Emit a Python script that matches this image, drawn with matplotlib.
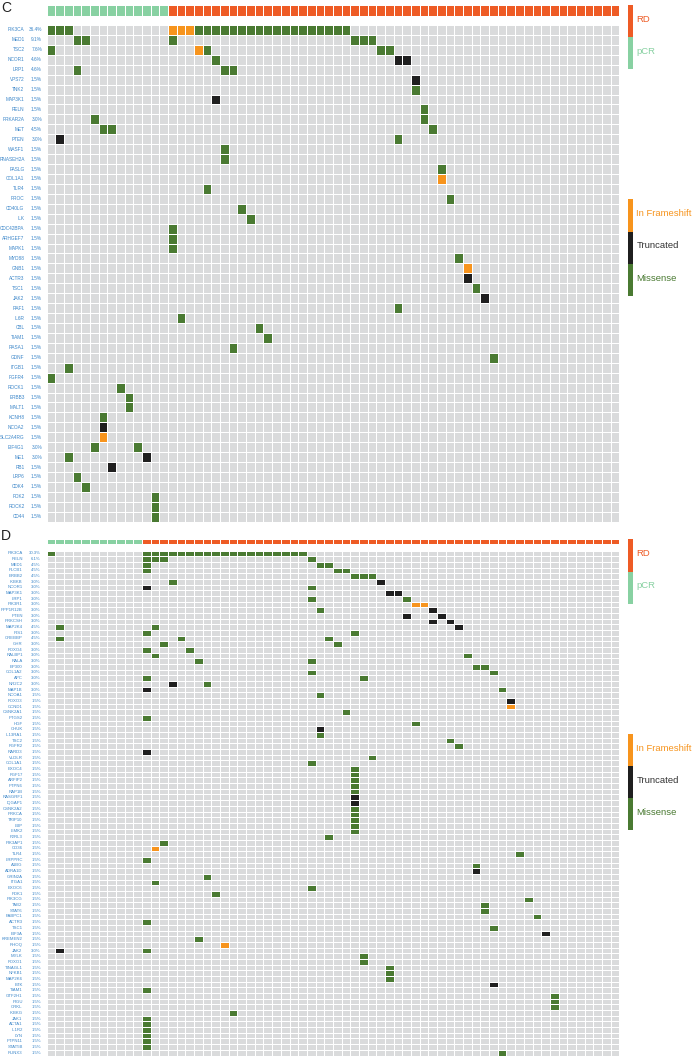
import numpy as np
import matplotlib
matplotlib.use('Agg')
import matplotlib.pyplot as plt
from matplotlib.colors import ListedColormap

W, H = 694, 1057
N_SAMPLES = 66

# ---------------- panel C ----------------
C_N_PCR = 14
C_GENES = ['PIK3CA', 'MED1', 'TSC2', 'NCOR1', 'LRP1', 'VPS72', 'TNK2', 'MAP3K1', 'RELN',
           'PRKAR2A', 'MET', 'PTEN', 'WASF1', 'RNASEH2A', 'FASLG', 'COL1A1', 'TLR4', 'PROC',
           'CD40LG', 'ILK', 'CDC42BPA', 'ARHGEF7', 'MAPK1', 'MYD88', 'GNB1', 'ACTR3', 'TSC1',
           'JAK2', 'RAF1', 'IL6R', 'CBL', 'TIAM1', 'RASA1', 'GDNF', 'ITGB1', 'FGFR4', 'ROCK1',
           'ERBB3', 'MALT1', 'KCNH8', 'NCOA2', 'SLC2A4RG', 'EIF4G1', 'ME1', 'RB1', 'LRP6',
           'CDK4', 'PDK2', 'ROCK2', 'CD44']
C_PCT = ['36.4%', '9.1%', '7.6%', '4.6%', '4.6%', '1.5%', '1.5%', '1.5%', '1.5%',
         '3.0%', '4.5%', '3.0%', '1.5%', '1.5%', '1.5%', '1.5%', '1.5%', '1.5%',
         '1.5%', '1.5%', '1.5%', '1.5%', '1.5%', '1.5%', '1.5%', '1.5%', '1.5%',
         '1.5%', '1.5%', '1.5%', '1.5%', '1.5%', '1.5%', '1.5%', '1.5%', '1.5%', '1.5%',
         '1.5%', '1.5%', '1.5%', '1.5%', '1.5%', '3.0%', '3.0%', '1.5%', '1.5%',
         '1.5%', '1.5%', '1.5%', '1.5%']
C_MISSENSE = {
    'PIK3CA': [0, 1, 2, 17, 18, 19, 20, 21, 22, 23, 24, 25, 26, 27, 28, 29, 30, 31, 32, 33, 34],
    'MED1': [3, 4, 14, 35, 36, 37], 'TSC2': [0, 18, 38, 39], 'NCOR1': [19],
    'LRP1': [3, 20, 21], 'TNK2': [42], 'RELN': [43], 'PRKAR2A': [5, 43], 'MET': [6, 7, 44],
    'PTEN': [40], 'WASF1': [20], 'RNASEH2A': [20], 'FASLG': [45], 'TLR4': [18], 'PROC': [46],
    'CD40LG': [22], 'ILK': [23], 'CDC42BPA': [14], 'ARHGEF7': [14], 'MAPK1': [14],
    'MYD88': [47], 'TSC1': [49], 'RAF1': [40], 'IL6R': [15], 'CBL': [24], 'TIAM1': [25],
    'RASA1': [21], 'GDNF': [51], 'ITGB1': [2], 'FGFR4': [0], 'ROCK1': [8], 'ERBB3': [9],
    'MALT1': [9], 'KCNH8': [6], 'EIF4G1': [5, 10], 'ME1': [2], 'LRP6': [3], 'CDK4': [4],
    'PDK2': [12], 'ROCK2': [12], 'CD44': [12],
}
C_TRUNCATED = {'NCOR1': [40, 41], 'VPS72': [42], 'MAP3K1': [19], 'PTEN': [1], 'ACTR3': [48],
               'JAK2': [50], 'NCOA2': [6], 'ME1': [11], 'RB1': [7]}
C_FRAMESHIFT = {'PIK3CA': [14, 15, 16], 'TSC2': [17], 'COL1A1': [45], 'GNB1': [48],
                'SLC2A4RG': [6]}

# ---------------- panel D ----------------
D_N_PCR = 11
D_GENES = ['PIK3CA', 'RELN', 'MED1', 'PLCB1', 'ERBB2', 'IKBKB', 'NCOR1', 'MAP3K1', 'LRP1',
           'PIK3R1', 'PPP1R12B', 'PTEN', 'PRKCSH', 'MAP2K4', 'IRS1', 'CREBBP', 'GHR', 'FOXO4',
           'RALBP1', 'RALA', 'EP300', 'COL1A2', 'APC', 'NR2C2', 'MAP1B', 'NCOA1', 'FOXO3',
           'CCND1', 'CSNK2A1', 'PTGS2', 'HGF', 'CHUK', 'IL13RA1', 'TSC2', 'FGFR2', 'RARD3',
           'VLDLR', 'COL1A1', 'EXOC4', 'FGF17', 'ARFIP2', 'PTPN6', 'RAP1B', 'RASGRF1',
           'IQGAP1', 'CSNK2A2', 'PRKCA', 'TRIP10', 'LBP', 'LIMK2', 'F2RL3', 'PIK3AP1', 'CD36',
           'TLR4', 'LRPPRC', 'A1BG', 'ADRA1D', 'GRIN2A', 'ITGA1', 'EXOC6', 'PDK1', 'PIK3CG',
           'TAB2', 'STAT6', 'PABPC1', 'ACTR3', 'TSC1', 'EIF3A', 'KREMEN2', 'RHOQ', 'JAK2',
           'MYLK', 'FOXO1', 'TINAGL1', 'NFKB1', 'MAP2K6', 'BTK', 'TIAM1', 'GTF2H1', 'PIGU',
           'CRKL', 'IKBKG', 'JAK1', 'ACTA1', 'IL1R2', 'LYN', 'PTPN11', 'STAT5B', 'RUNX3']
D_PCT = ['30.3%', '6.1%', '4.5%', '4.5%', '4.5%'] + ['3.0%'] * 8 + ['4.5%', '3.0%', '4.5%'] \
    + ['3.0%'] * 9 + ['1.5%'] * 45 + ['3.0%'] + ['1.5%'] * 18
D_MISSENSE = {
    'PIK3CA': [0, 11, 12, 13, 14, 15, 16, 17, 18, 19, 20, 21, 22, 23, 24, 25, 26, 27, 28, 29],
    'RELN': [11, 12, 13, 30], 'MED1': [11, 31, 32], 'PLCB1': [11, 33, 34],
    'ERBB2': [35, 36, 37], 'IKBKB': [14], 'NCOR1': [30], 'LRP1': [30, 41], 'PPP1R12B': [31],
    'MAP2K4': [1, 12], 'IRS1': [11, 35], 'CREBBP': [1, 15, 32], 'GHR': [13, 33],
    'FOXO4': [11, 16], 'RALBP1': [12, 48], 'RALA': [17, 30], 'EP300': [49, 50],
    'COL1A2': [30, 51], 'APC': [11, 36], 'NR2C2': [18], 'MAP1B': [52], 'NCOA1': [31],
    'CSNK2A1': [34], 'PTGS2': [11], 'HGF': [42], 'IL13RA1': [31], 'TSC2': [46],
    'FGFR2': [47], 'VLDLR': [37], 'COL1A1': [30], 'EXOC4': [35], 'FGF17': [35],
    'ARFIP2': [35], 'PTPN6': [35], 'RAP1B': [35], 'CSNK2A2': [35], 'PRKCA': [35],
    'TRIP10': [35], 'LBP': [35], 'LIMK2': [35], 'F2RL3': [32], 'PIK3AP1': [13], 'TLR4': [54],
    'LRPPRC': [11], 'A1BG': [49], 'GRIN2A': [18], 'ITGA1': [12], 'EXOC6': [30], 'PDK1': [19],
    'PIK3CG': [55], 'TAB2': [50], 'STAT6': [50], 'PABPC1': [56], 'ACTR3': [11], 'TSC1': [51],
    'KREMEN2': [17], 'JAK2': [11], 'MYLK': [36], 'FOXO1': [36], 'TINAGL1': [39],
    'NFKB1': [39], 'MAP2K6': [39], 'TIAM1': [11], 'GTF2H1': [58], 'PIGU': [58], 'CRKL': [58],
    'IKBKG': [21], 'JAK1': [11], 'ACTA1': [11], 'IL1R2': [11], 'LYN': [11], 'PTPN11': [11],
    'STAT5B': [11], 'RUNX3': [52],
}
D_TRUNCATED = {'IKBKB': [38], 'NCOR1': [11], 'MAP3K1': [39, 40], 'PPP1R12B': [44],
               'PTEN': [41, 45], 'PRKCSH': [44, 46], 'MAP2K4': [47], 'NR2C2': [14],
               'MAP1B': [11], 'FOXO3': [53], 'CHUK': [31], 'RARD3': [11], 'RASGRF1': [35],
               'IQGAP1': [35], 'ADRA1D': [49], 'EIF3A': [57], 'JAK2': [1], 'BTK': [51]}
D_FRAMESHIFT = {'PIK3R1': [42, 43], 'CCND1': [53], 'CD36': [12], 'RHOQ': [20]}

GROUPS = ['RD', 'pCR']
MUT_TYPES = ['In Frameshift', 'Truncated', 'Missense']

GRAY = '#dadbdc'
GREEN = '#4a7a32'
BLACK = '#1f1f1f'
ORANGE = '#f7941d'
PCR_COL = '#88d1a2'
RD_COL = '#ee5b25'
LABEL_COL = '#3b86c9'
FONT = 'Liberation Sans'

fig = plt.figure(figsize=(W / 100, H / 100), dpi=100)


def px_axes(x0, y0, x1, y1):
    return fig.add_axes([x0 / W, 1 - y1 / H, (x1 - x0) / W, (y1 - y0) / H])


def mutation_matrix(genes, missense, truncated, frameshift):
    mat = np.zeros((len(genes), N_SAMPLES))
    for code, d in [(1, missense), (2, truncated), (3, frameshift)]:
        for g, cols in d.items():
            mat[genes.index(g), cols] = code
    return mat


def draw_panel(letter, genes, pct, missense, truncated, frameshift, n_pcr,
               head_top, head_h, grid_top, grid_bot, fs, lw, name_x, pct_x, letter_y, letter_fs):
    gx0, gx1 = 46.5, 619.3
    # header
    axh = px_axes(gx0, head_top, gx1, head_top + head_h)
    grp = np.array([[0] * n_pcr + [1] * (N_SAMPLES - n_pcr)])
    axh.pcolormesh(grp, cmap=ListedColormap([PCR_COL, RD_COL]), vmin=-0.5, vmax=1.5,
                   edgecolors='white', linewidth=lw)
    axh.set_xlim(0, N_SAMPLES)
    axh.axis('off')

    # oncoprint grid
    ax = px_axes(gx0, grid_top, gx1, grid_bot)
    mat = mutation_matrix(genes, missense, truncated, frameshift)
    ax.pcolormesh(mat, cmap=ListedColormap([GRAY, GREEN, BLACK, ORANGE]), vmin=-0.5, vmax=3.5,
                  edgecolors='white', linewidth=lw)
    ax.set_xlim(0, N_SAMPLES)
    ax.set_ylim(len(genes), 0)
    ax.axis('off')
    tr = ax.get_yaxis_transform()
    for i, (g, p) in enumerate(zip(genes, pct)):
        ax.text((name_x - gx0) / (gx1 - gx0), i + 0.5, g, transform=tr, ha='right',
                va='center', fontsize=fs, color=LABEL_COL, family=FONT)
        ax.text((pct_x - gx0) / (gx1 - gx0), i + 0.5, p, transform=tr, ha='right',
                va='center', fontsize=fs, color=LABEL_COL, family=FONT)
    fig.text(1 / W, 1 - letter_y / H, letter, fontsize=letter_fs, va='center', ha='left',
             family=FONT, color='#222222')

    # legends
    seg = 32.2
    for top, labels, cols, tcols in [
            (head_top, GROUPS, [RD_COL, PCR_COL], [RD_COL, PCR_COL]),
            (head_top + 194.3, MUT_TYPES, [ORANGE, BLACK, GREEN], [ORANGE, '#333333', GREEN])]:
        n = len(labels)
        axl = px_axes(627.7, top, 633.3, top + seg * n)
        axl.bar(0, 1, width=1, bottom=np.arange(n), color=cols, align='center')
        axl.set_xlim(-0.5, 0.5)
        axl.set_ylim(n, 0)
        axl.axis('off')
        for k, lab in enumerate(labels):
            axl.text(1.55, k + 0.45, lab, transform=axl.get_yaxis_transform(), fontsize=6.8,
                     color=tcols[k], va='center', ha='left', family=FONT)


draw_panel('C', C_GENES, C_PCT, C_MISSENSE, C_TRUNCATED, C_FRAMESHIFT, C_N_PCR,
           5.0, 10.7, 25.0, 521.7, 3.4, 0.7, 24.5, 42.0, 8.0, 10)
draw_panel('D', D_GENES, D_PCT, D_MISSENSE, D_TRUNCATED, D_FRAMESHIFT, D_N_PCR,
           539.3, 5.0, 550.5, 1055.5, 3.1, 0.6, 22.7, 40.7, 536.5, 10)

fig.savefig('out.png', dpi=100)
